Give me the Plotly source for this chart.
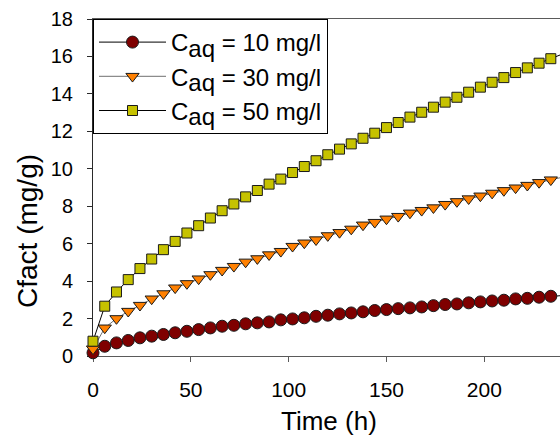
import plotly.graph_objects as go

# ---- data ----
time_h = [0, 6, 12, 18, 24, 30, 36, 42, 48, 54, 60, 66, 72, 78, 84, 90, 96, 102, 108, 114,
          120, 126, 132, 138, 144, 150, 156, 162, 168, 174, 180, 186, 192, 198, 204, 210,
          216, 222, 228, 234, 240]

c_aq_10 = [0.17, 0.52, 0.70, 0.83, 0.97, 1.06, 1.15, 1.24, 1.32, 1.41, 1.50, 1.59, 1.64,
           1.72, 1.77, 1.82, 1.93, 1.98, 2.04, 2.12, 2.18, 2.25, 2.30, 2.36, 2.43, 2.48,
           2.53, 2.57, 2.62, 2.69, 2.75, 2.78, 2.84, 2.89, 2.94, 2.98, 3.05, 3.08, 3.14,
           3.19, 3.23]

c_aq_30 = [0.38, 1.50, 2.00, 2.39, 2.71, 3.05, 3.33, 3.64, 3.87, 4.12, 4.35, 4.58, 4.79,
           5.02, 5.20, 5.41, 5.59, 5.86, 6.04, 6.21, 6.43, 6.60, 6.78, 7.00, 7.14, 7.32,
           7.46, 7.64, 7.78, 7.92, 8.10, 8.25, 8.40, 8.55, 8.70, 8.84, 8.98, 9.12, 9.27,
           9.41, 9.55]

c_aq_50 = [0.79, 2.66, 3.42, 4.08, 4.67, 5.18, 5.68, 6.12, 6.57, 6.96, 7.37, 7.76, 8.12,
           8.50, 8.84, 9.18, 9.45, 9.80, 10.12, 10.43, 10.75, 11.05, 11.33, 11.63, 11.90,
           12.20, 12.47, 12.76, 13.02, 13.29, 13.56, 13.82, 14.09, 14.36, 14.62, 14.87,
           15.14, 15.39, 15.64, 15.88, 16.13]

series_names = ["10", "30", "50"]
x_ticks = [0, 50, 100, 150, 200]
y_ticks = [0, 2, 4, 6, 8, 10, 12, 14, 16, 18]

FONT = "Arial, 'Liberation Sans', sans-serif"


def legend_label(v):
    return ('C<sub><span style="font-size:24px">aq</span></sub> = ' + v + ' mg/l')


fig = go.Figure()

fig.add_trace(go.Scatter(
    x=time_h, y=c_aq_10, mode="lines+markers", name=legend_label(series_names[0]),
    line=dict(color="black", width=1),
    marker=dict(symbol="circle", size=12, color="#7f0000",
                line=dict(color="#1a1a1a", width=1)),
    cliponaxis=False,
))
fig.add_trace(go.Scatter(
    x=time_h, y=c_aq_30, mode="lines+markers", name=legend_label(series_names[1]),
    line=dict(color="#707070", width=1),
    marker=dict(symbol="triangle-down", size=11.5, color="#ff8000",
                line=dict(color="#1a1a1a", width=1)),
    cliponaxis=False,
))
fig.add_trace(go.Scatter(
    x=time_h, y=c_aq_50, mode="lines+markers", name=legend_label(series_names[2]),
    line=dict(color="black", width=1),
    marker=dict(symbol="square", size=10, color="#c6c200",
                line=dict(color="#1a1a1a", width=1)),
    cliponaxis=False,
))

plot_left, plot_right, plot_top, plot_bottom = 93, 560, 19, 356
W, H = 560, 438
px_per_unit_x = (484 - 92.7) / 200.0
x_max = (plot_right - plot_left) / px_per_unit_x

fig.update_layout(
    width=W, height=H,
    margin=dict(l=plot_left, r=W - plot_right, t=plot_top, b=H - plot_bottom, pad=0),
    paper_bgcolor="white", plot_bgcolor="white",
    font=dict(family=FONT, color="black"),
    showlegend=True,
    legend=dict(
        x=0, y=1, xanchor="left", yanchor="top",
        bgcolor="white", bordercolor="black", borderwidth=1,
        font=dict(family=FONT, size=24, color="black"),
        itemwidth=67, tracegroupgap=0,
    ),
    xaxis=dict(
        range=[0, x_max], tickvals=x_ticks, ticktext=[str(v) for v in x_ticks],
        showgrid=False, zeroline=False,
        showline=True, linecolor="#5a5a5a", linewidth=1, mirror=True,
        ticks="outside", ticklen=5, tickcolor="#5a5a5a", tickwidth=1,
        tickfont=dict(family=FONT, size=21, color="black"),
        ticklabelstandoff=10,
        layer="below traces",
    ),
    yaxis=dict(
        range=[0, 18], tickvals=y_ticks, ticktext=[str(v) for v in y_ticks],
        showgrid=False, zeroline=False,
        showline=True, linecolor="#2a2a2a", linewidth=1, mirror=False,
        ticks="outside", ticklen=5, tickcolor="#2a2a2a", tickwidth=1,
        tickfont=dict(family=FONT, size=20, color="black"),
        ticklabelstandoff=10,
        layer="below traces",
    ),
    annotations=[
        dict(text="Time (h)", xref="paper", yref="paper",
             x=(329 - plot_left) / (plot_right - plot_left),
             y=(plot_bottom - 421) / (plot_bottom - plot_top),
             xanchor="center", yanchor="middle", showarrow=False,
             font=dict(family=FONT, size=26, color="black")),
        dict(text="Cfact (mg/g)", xref="paper", yref="paper",
             x=(27 - plot_left) / (plot_right - plot_left),
             y=(plot_bottom - 231) / (plot_bottom - plot_top),
             xanchor="center", yanchor="middle", showarrow=False, textangle=-90,
             font=dict(family=FONT, size=28, color="black")),
    ],
)

fig.write_html(
    "out.html",
    config={"displayModeBar": False},
    post_script="document.body.style.margin='0';document.body.style.overflow='hidden';",
)
